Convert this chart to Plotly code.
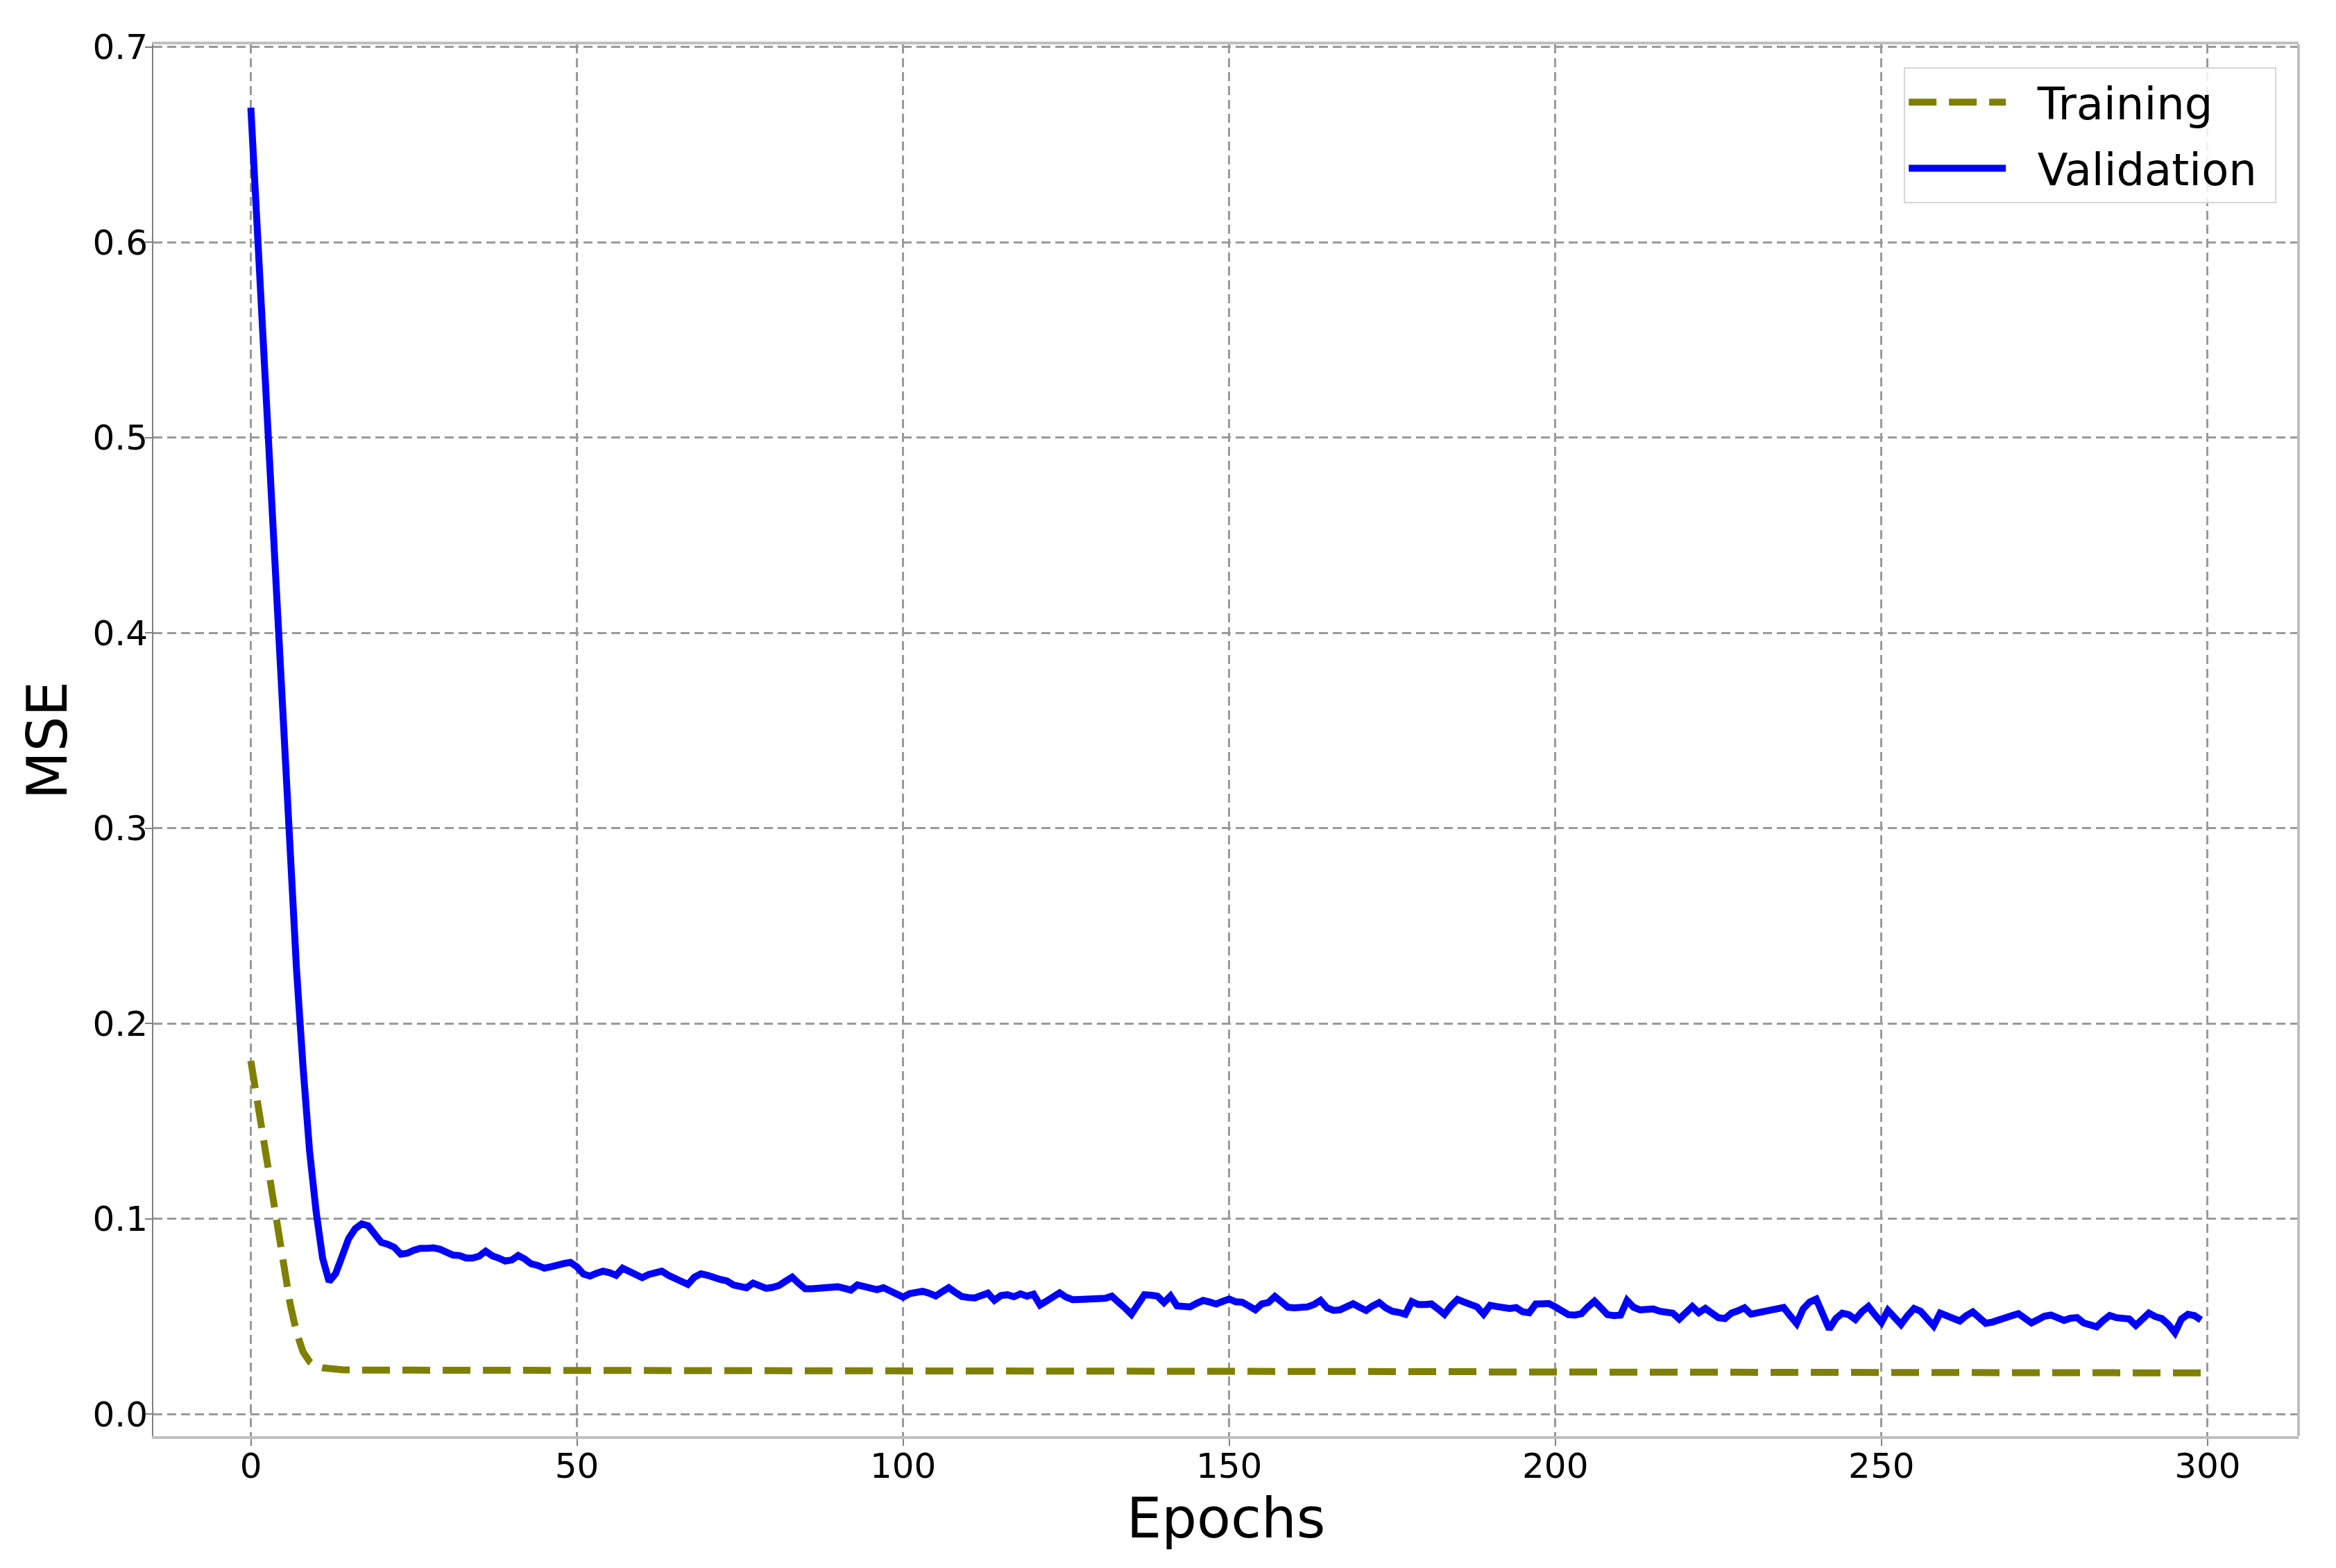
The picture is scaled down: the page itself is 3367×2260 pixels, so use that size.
"""Training / validation MSE curves."""

import plotly.graph_objects as go

epochs = list(range(300))

training_mse = [
    0.1810, 0.1600, 0.1380, 0.1160, 0.0950, 0.0750, 0.0570, 0.0420, 0.0320, 0.0270,
    0.0245, 0.0238, 0.0233, 0.0230, 0.0228, 0.0227, 0.0226, 0.0226, 0.0226, 0.0226,
    0.0226, 0.0226, 0.0226, 0.0226, 0.0226, 0.0226, 0.0226, 0.0226, 0.0226, 0.0226,
    0.0226, 0.0226, 0.0226, 0.0226, 0.0226, 0.0226, 0.0226, 0.0225, 0.0225, 0.0225,
    0.0225, 0.0225, 0.0225, 0.0225, 0.0225, 0.0225, 0.0225, 0.0225, 0.0225, 0.0225,
    0.0224, 0.0224, 0.0224, 0.0224, 0.0224, 0.0224, 0.0224, 0.0224, 0.0224, 0.0224,
    0.0224, 0.0224, 0.0224, 0.0224, 0.0224, 0.0224, 0.0224, 0.0224, 0.0224, 0.0224,
    0.0223, 0.0223, 0.0223, 0.0223, 0.0223, 0.0223, 0.0223, 0.0223, 0.0223, 0.0223,
    0.0223, 0.0223, 0.0223, 0.0223, 0.0223, 0.0223, 0.0223, 0.0223, 0.0223, 0.0223,
    0.0222, 0.0222, 0.0222, 0.0222, 0.0222, 0.0222, 0.0222, 0.0222, 0.0222, 0.0222,
    0.0222, 0.0222, 0.0222, 0.0222, 0.0222, 0.0222, 0.0222, 0.0222, 0.0222, 0.0222,
    0.0221, 0.0221, 0.0221, 0.0221, 0.0221, 0.0221, 0.0221, 0.0221, 0.0221, 0.0221,
    0.0221, 0.0221, 0.0221, 0.0221, 0.0221, 0.0221, 0.0221, 0.0221, 0.0221, 0.0221,
    0.0220, 0.0220, 0.0220, 0.0220, 0.0220, 0.0220, 0.0220, 0.0220, 0.0220, 0.0220,
    0.0220, 0.0220, 0.0220, 0.0220, 0.0220, 0.0220, 0.0220, 0.0220, 0.0220, 0.0220,
    0.0219, 0.0219, 0.0219, 0.0219, 0.0219, 0.0219, 0.0219, 0.0219, 0.0219, 0.0219,
    0.0219, 0.0219, 0.0219, 0.0219, 0.0219, 0.0219, 0.0219, 0.0219, 0.0219, 0.0219,
    0.0218, 0.0218, 0.0218, 0.0218, 0.0218, 0.0218, 0.0218, 0.0218, 0.0218, 0.0218,
    0.0218, 0.0218, 0.0218, 0.0218, 0.0218, 0.0218, 0.0218, 0.0218, 0.0218, 0.0218,
    0.0217, 0.0217, 0.0217, 0.0217, 0.0217, 0.0217, 0.0217, 0.0217, 0.0217, 0.0217,
    0.0217, 0.0217, 0.0217, 0.0217, 0.0217, 0.0217, 0.0217, 0.0217, 0.0217, 0.0217,
    0.0216, 0.0216, 0.0216, 0.0216, 0.0216, 0.0216, 0.0216, 0.0216, 0.0216, 0.0216,
    0.0216, 0.0216, 0.0216, 0.0216, 0.0216, 0.0216, 0.0216, 0.0216, 0.0216, 0.0216,
    0.0215, 0.0215, 0.0215, 0.0215, 0.0215, 0.0215, 0.0215, 0.0215, 0.0215, 0.0215,
    0.0215, 0.0215, 0.0215, 0.0215, 0.0215, 0.0215, 0.0215, 0.0215, 0.0215, 0.0215,
    0.0214, 0.0214, 0.0214, 0.0214, 0.0214, 0.0214, 0.0214, 0.0214, 0.0214, 0.0214,
    0.0214, 0.0214, 0.0214, 0.0214, 0.0214, 0.0214, 0.0214, 0.0214, 0.0214, 0.0214,
    0.0213, 0.0213, 0.0213, 0.0213, 0.0213, 0.0213, 0.0213, 0.0213, 0.0213, 0.0213,
    0.0213, 0.0213, 0.0213, 0.0213, 0.0213, 0.0213, 0.0213, 0.0213, 0.0213, 0.0213,
    0.0212, 0.0212, 0.0212, 0.0212, 0.0212, 0.0212, 0.0212, 0.0212, 0.0212, 0.0212,
]

validation_mse = [
    0.6690, 0.6070, 0.5410, 0.4750, 0.4100, 0.3450, 0.2840, 0.2280, 0.1780, 0.1350,
    0.1040, 0.0800, 0.0680, 0.0720, 0.0810, 0.0900, 0.0950, 0.0975, 0.0965, 0.0920,
    0.0880, 0.0870, 0.0855, 0.0820, 0.0825, 0.0840, 0.0850, 0.0850, 0.0852, 0.0845,
    0.0830, 0.0815, 0.0813, 0.0800, 0.0800, 0.0810, 0.0835, 0.0812, 0.0800, 0.0785,
    0.0790, 0.0813, 0.0795, 0.0770, 0.0762, 0.0748, 0.0755, 0.0768, 0.0772, 0.0778,
    0.0755, 0.0718, 0.0708, 0.0722, 0.0733, 0.0725, 0.0712, 0.0748, 0.0732, 0.0718,
    0.0700, 0.0716, 0.0722, 0.0733, 0.0712, 0.0693, 0.0680, 0.0665, 0.0702, 0.0719,
    0.0712, 0.0698, 0.0690, 0.0683, 0.0662, 0.0655, 0.0648, 0.0672, 0.0660, 0.0645,
    0.0650, 0.0660, 0.0682, 0.0702, 0.0670, 0.0643, 0.0643, 0.0645, 0.0648, 0.0650,
    0.0653, 0.0645, 0.0636, 0.0663, 0.0656, 0.0645, 0.0638, 0.0648, 0.0632, 0.0622,
    0.0600, 0.0618, 0.0624, 0.0630, 0.0620, 0.0606, 0.0628, 0.0648, 0.0625, 0.0603,
    0.0598, 0.0596, 0.0608, 0.0620, 0.0584, 0.0608, 0.0612, 0.0602, 0.0617, 0.0605,
    0.0615, 0.0560, 0.0580, 0.0605, 0.0622, 0.0600, 0.0587, 0.0588, 0.0590, 0.0590,
    0.0590, 0.0594, 0.0605, 0.0578, 0.0545, 0.0512, 0.0565, 0.0612, 0.0610, 0.0605,
    0.0572, 0.0606, 0.0555, 0.0553, 0.0550, 0.0568, 0.0583, 0.0575, 0.0565, 0.0578,
    0.0590, 0.0576, 0.0574, 0.0555, 0.0535, 0.0565, 0.0572, 0.0603, 0.0580, 0.0548,
    0.0545, 0.0548, 0.0550, 0.0562, 0.0583, 0.0545, 0.0532, 0.0535, 0.0550, 0.0566,
    0.0548, 0.0532, 0.0555, 0.0572, 0.0545, 0.0528, 0.0522, 0.0512, 0.0577, 0.0562,
    0.0562, 0.0565, 0.0540, 0.0512, 0.0555, 0.0588, 0.0575, 0.0558, 0.0550, 0.0513,
    0.0558, 0.0552, 0.0543, 0.0542, 0.0546, 0.0525, 0.0520, 0.0565, 0.0566, 0.0567,
    0.0550, 0.0530, 0.0510, 0.0508, 0.0515, 0.0550, 0.0579, 0.0545, 0.0510, 0.0505,
    0.0508, 0.0583, 0.0548, 0.0535, 0.0540, 0.0540, 0.0528, 0.0524, 0.0518, 0.0488,
    0.0520, 0.0552, 0.0520, 0.0542, 0.0518, 0.0495, 0.0490, 0.0518, 0.0530, 0.0545,
    0.0513, 0.0520, 0.0530, 0.0535, 0.0538, 0.0547, 0.0505, 0.0465, 0.0540, 0.0575,
    0.0590, 0.0510, 0.0436, 0.0490, 0.0518, 0.0510, 0.0486, 0.0525, 0.0552, 0.0510,
    0.0470, 0.0532, 0.0500, 0.0460, 0.0505, 0.0542, 0.0528, 0.0490, 0.0453, 0.0518,
    0.0505, 0.0500, 0.0478, 0.0505, 0.0524, 0.0495, 0.0466, 0.0472, 0.0480, 0.0492,
    0.0505, 0.0515, 0.0495, 0.0468, 0.0485, 0.0502, 0.0508, 0.0495, 0.0481, 0.0492,
    0.0495, 0.0468, 0.0458, 0.0448, 0.0480, 0.0506, 0.0495, 0.0490, 0.0488, 0.0455,
    0.0485, 0.0518, 0.0500, 0.0490, 0.0460, 0.0418, 0.0488, 0.0512, 0.0505, 0.0483,
]

x_ticks = [0, 50, 100, 150, 200, 250, 300]
y_ticks = [0.0, 0.1, 0.2, 0.3, 0.4, 0.5, 0.6, 0.7]

FONT = "DejaVu Sans"
GRID = "#9a9a9a"
NBSP = "\u00a0"

fig = go.Figure()
fig.add_trace(
    go.Scatter(
        x=epochs,
        y=training_mse,
        name=NBSP * 2 + "Training" + NBSP,
        legendgroup="training",
        mode="lines",
        line=dict(color="#808000", width=10, dash="40px,18px"),
    )
)
fig.add_trace(
    go.Scatter(
        x=epochs,
        y=validation_mse,
        name=NBSP * 2 + "Validation" + NBSP,
        legendgroup="validation",
        mode="lines",
        line=dict(color="#0000ff", width=10),
    )
)

axis_common = dict(
    showgrid=True,
    gridcolor=GRID,
    gridwidth=3,
    griddash="13px,7px",
    zeroline=False,
    ticks="outside",
    ticklen=10,
    tickwidth=2,
    tickcolor="#808080",
    tickfont=dict(family=FONT, size=50, color="#000000"),
)

# the page body adds an 8px offset, so margins are shifted to compensate
fig.update_layout(
    width=3367,
    height=2260,
    margin=dict(l=213, r=62, t=56, b=198),
    paper_bgcolor="white",
    plot_bgcolor="white",
    font=dict(family=FONT, color="#000000"),
    xaxis=dict(
        axis_common,
        range=[-14.95, 313.95],
        tickvals=x_ticks,
        ticklabelstandoff=-14,
        showline=True,
        linecolor="#bfbfbf",
        linewidth=4,
        mirror=True,
        title=dict(text="Epochs", font=dict(family=FONT, size=80), standoff=8),
    ),
    yaxis=dict(
        axis_common,
        range=[-0.0112, 0.7014],
        tickvals=y_ticks,
        tickformat=".1f",
        ticklabelstandoff=-14,
        showline=True,
        linecolor="#808080",
        linewidth=2,
        title=dict(text="MSE", font=dict(family=FONT, size=80), standoff=10),
    ),
    legend=dict(
        x=0.9897,
        y=0.9835,
        xanchor="right",
        yanchor="top",
        bgcolor="rgba(255,255,255,0.85)",
        bordercolor="#d6d6d6",
        borderwidth=2,
        font=dict(family=FONT, size=64),
        itemwidth=140,
        tracegroupgap=9,
    ),
    showlegend=True,
)

# right spine
fig.add_shape(
    type="line",
    xref="paper",
    yref="paper",
    x0=1,
    x1=1,
    y0=0,
    y1=1,
    line=dict(color="#bfbfbf", width=4),
)

fig.write_html("out.html")
